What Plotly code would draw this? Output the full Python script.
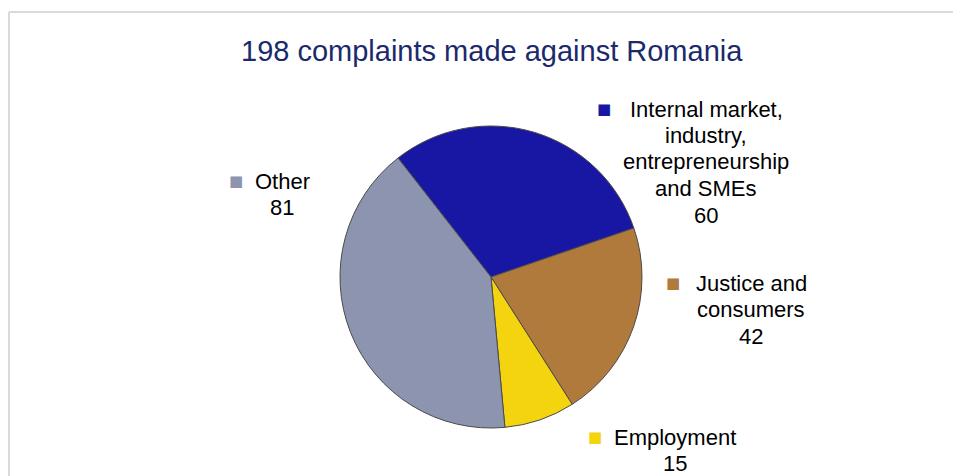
import plotly.graph_objects as go

categories = ["Internal market, industry, entrepreneurship and SMEs",
              "Justice and consumers", "Employment", "Other"]
values = [60, 42, 15, 81]
colors = ["#1717a3", "#b07a3c", "#f4d30f", "#8c94b0"]
label_lines = [["Internal market,", "industry,", "entrepreneurship", "and SMEs"],
               ["Justice and", "consumers"],
               ["Employment"],
               ["Other"]]
title_text = "198 complaints made against Romania"

W, H = 961, 476
OX, OY = 8, 7  # page offset of the plot div inside the browser window


def px(x):
    return (x - OX) / W


def py(y):
    return 1 - (y - OY) / H


cx, cy, r = 491, 276, 151

fig = go.Figure(go.Pie(
    labels=categories, values=values, sort=False, direction="clockwise",
    rotation=-38,
    marker=dict(colors=colors, line=dict(color="#4a4a4a", width=1)),
    textinfo="none", hoverinfo="label+value", showlegend=False,
    domain=dict(x=[px(cx - r), px(cx + r)], y=[py(cy + r), py(cy - r)]),
))

# label block positions (pixels): center x of text, first-line y, square x
label_pos = [(706, 108, 604), (751, 282, 673), (675, 436, 595), (282, 180, 236)]
line_step = 26.5
font = "Liberation Sans, Arial, sans-serif"
for (tx, ty, sx), lines, v, c in zip(label_pos, label_lines, values, colors):
    for i, ln in enumerate(lines + [str(v)]):
        fig.add_annotation(x=px(tx), y=py(ty + i * line_step), xref="paper", yref="paper",
                           text=ln, showarrow=False, align="center",
                           xanchor="center", yanchor="middle",
                           font=dict(family=font, size=22, color="#000000"))
    fig.add_annotation(x=px(sx), y=py(ty), xref="paper", yref="paper",
                       text="■", showarrow=False, xanchor="center", yanchor="middle",
                       font=dict(family="DejaVu Sans", size=15, color=c))

fig.add_annotation(x=px(492), y=py(50), xref="paper", yref="paper",
                   text=title_text, showarrow=False, xanchor="center", yanchor="middle",
                   font=dict(family=font, size=29, color="#1b2a6b"))

# frame lines
fig.add_shape(type="line", xref="paper", yref="paper", x0=px(9), x1=1, y0=py(11), y1=py(11),
              line=dict(color="#d9d9d9", width=2))
fig.add_shape(type="line", xref="paper", yref="paper", x0=px(9), x1=px(9), y0=0, y1=py(11),
              line=dict(color="#d9d9d9", width=2))

fig.update_layout(width=W, height=H, margin=dict(l=0, r=0, t=0, b=0),
                  paper_bgcolor="white", plot_bgcolor="white")
fig.write_html("out.html")
